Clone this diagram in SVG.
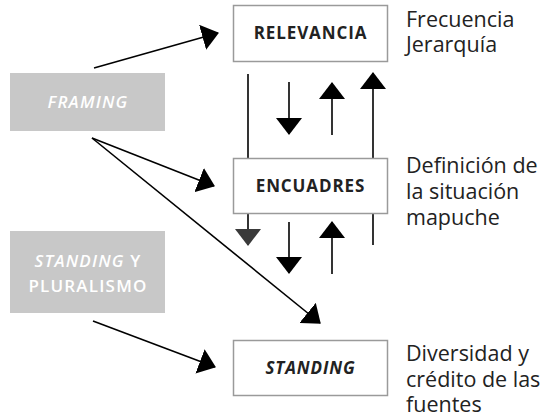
<svg xmlns="http://www.w3.org/2000/svg" width="546" height="420" viewBox="0 0 546 420">
<style>
.box{fill:#fff;stroke:#9a9a9a;stroke-width:1.5}
.gbox{fill:#c8c8c8;stroke:none}
.bt{font-family:"Open Sans",sans-serif;font-weight:700;font-size:17px;fill:#222;text-anchor:middle;letter-spacing:0.9px}
.gt{font-family:"Open Sans",sans-serif;font-weight:600;font-size:17px;fill:#fff;text-anchor:middle;letter-spacing:1.2px}
.rt{font-family:"Open Sans",sans-serif;font-size:21.5px;fill:#222}
.ln{stroke:#000;stroke-width:1.6;fill:none}
</style>
<defs>
<marker id="ah" viewBox="0 0 17 26" refX="16" refY="13" markerWidth="17" markerHeight="26" markerUnits="userSpaceOnUse" orient="auto">
<path d="M0,0 L17,13 L0,26 z" fill="#000"/>
</marker>
<marker id="ahg" viewBox="0 0 17 26" refX="16" refY="13" markerWidth="17" markerHeight="26" markerUnits="userSpaceOnUse" orient="auto">
<path d="M0,0 L17,13 L0,26 z" fill="#3a3a3a"/>
</marker>
</defs>
<g id="connectors">
<line class="ln" x1="94" y1="68" x2="218" y2="33" marker-end="url(#ah)"/>
<line class="ln" x1="92" y1="138" x2="214" y2="186" marker-end="url(#ah)"/>
<line class="ln" x1="92" y1="138" x2="320" y2="323" marker-end="url(#ah)"/>
<line class="ln" x1="93" y1="321" x2="215" y2="367" marker-end="url(#ah)"/>
<line class="ln" x1="248" y1="74" x2="248" y2="245" marker-end="url(#ahg)"/>
<line class="ln" x1="289" y1="82" x2="289" y2="134" marker-end="url(#ah)"/>
<line class="ln" x1="332" y1="135" x2="332" y2="83" marker-end="url(#ah)"/>
<line class="ln" x1="373" y1="245" x2="373" y2="73" marker-end="url(#ah)"/>
<line class="ln" x1="289" y1="222" x2="289" y2="273" marker-end="url(#ah)"/>
<line class="ln" x1="332" y1="274" x2="332" y2="222" marker-end="url(#ah)"/>
</g>
<g id="framing">
<rect class="gbox" x="10" y="73" width="155" height="58"/>
<text class="gt" x="88" y="108" font-style="italic" letter-spacing="1.6px">FRAMING</text>
</g>
<g id="standing-pluralismo">
<rect class="gbox" x="10" y="231" width="155" height="82"/>
<text class="gt" x="88" y="267"><tspan font-style="italic">STANDING</tspan> Y</text>
<text class="gt" x="88" y="292">PLURALISMO</text>
</g>
<g id="relevancia">
<rect class="box" x="233.5" y="5.5" width="154" height="56"/>
<text class="bt" x="310.5" y="39">RELEVANCIA</text>
<text class="rt" x="406" y="27">Frecuencia</text>
<text class="rt" x="406" y="52">Jerarquía</text>
</g>
<g id="encuadres">
<rect class="box" x="233.5" y="158.5" width="154" height="55"/>
<text class="bt" x="310.5" y="192">ENCUADRES</text>
<text class="rt" x="406" y="173">Definición de</text>
<text class="rt" x="406" y="199">la situación</text>
<text class="rt" x="406" y="225">mapuche</text>
</g>
<g id="standing">
<rect class="box" x="233.5" y="340.5" width="154" height="55"/>
<text class="bt" x="310.5" y="374" font-style="italic">STANDING</text>
<text class="rt" x="406" y="361">Diversidad y</text>
<text class="rt" x="406" y="387">crédito de las</text>
<text class="rt" x="406" y="412">fuentes</text>
</g>
</svg>
